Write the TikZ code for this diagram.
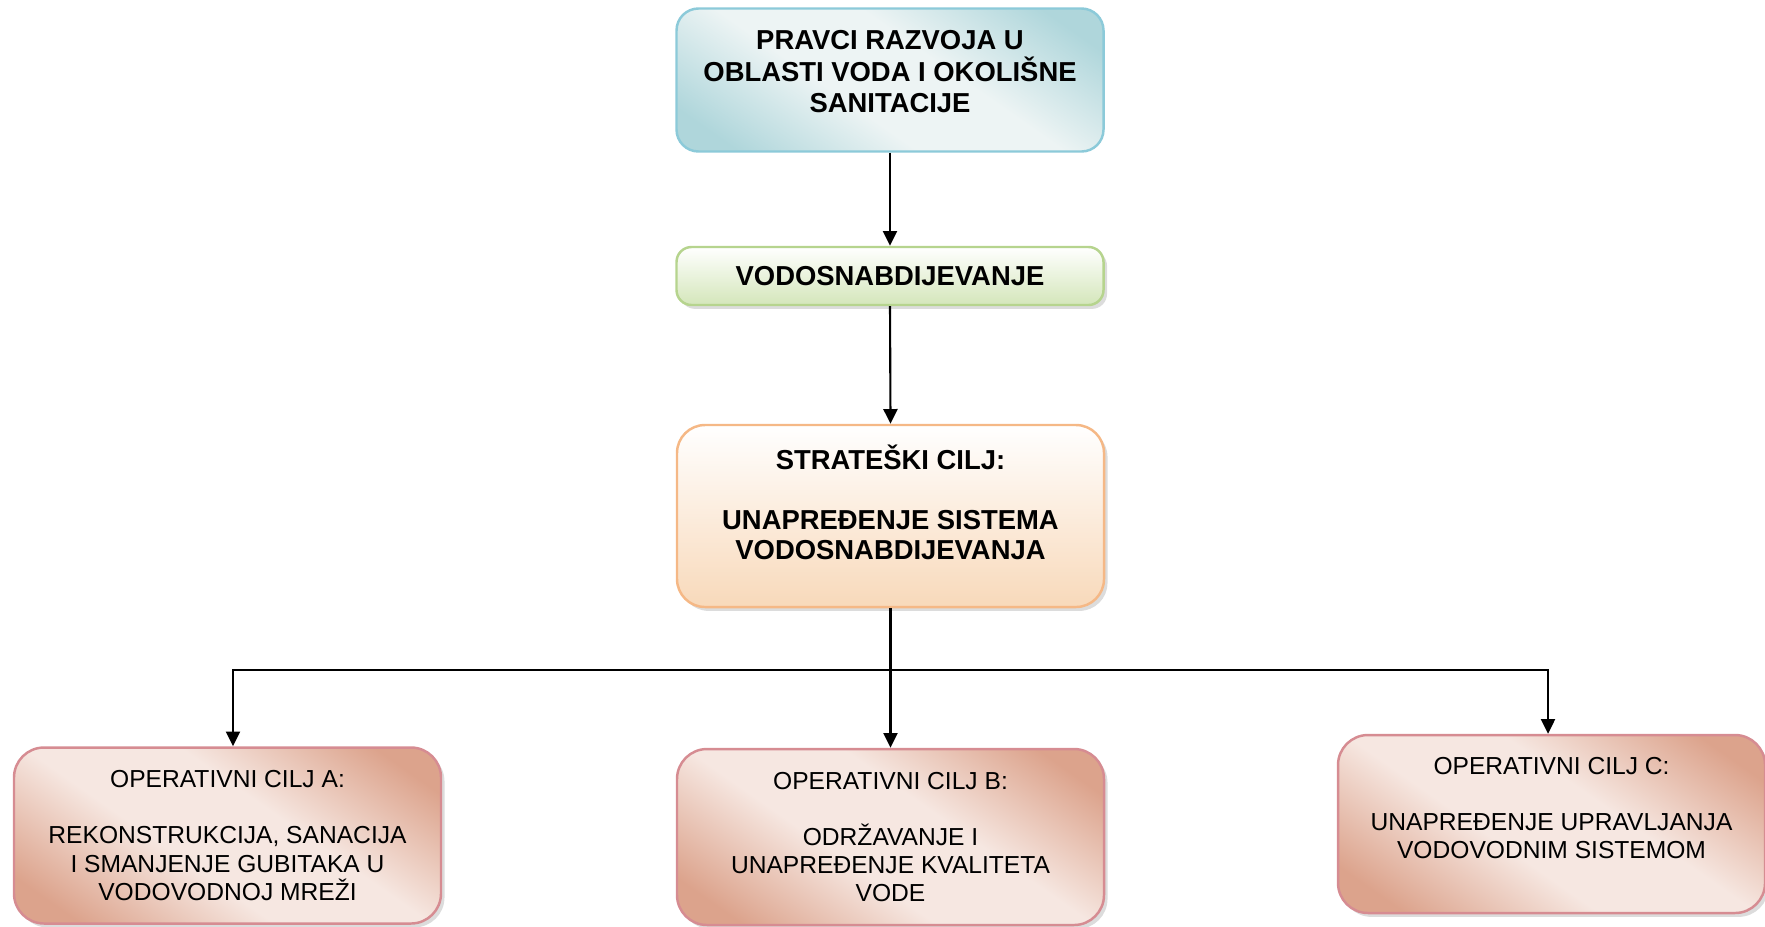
\documentclass[tikz,border=0pt]{standalone}
\usepackage{fontspec}
\setmainfont{Liberation Sans}
\usetikzlibrary{arrows.meta,shadows,positioning}
\definecolor{tealdark}{HTML}{AFD6DB}
\definecolor{teallight}{HTML}{EDF4F4}
\definecolor{tealline}{HTML}{8CCAD9}
\definecolor{greenfill}{HTML}{D4E6BA}
\definecolor{greenline}{HTML}{B6D48E}
\definecolor{peachfill}{HTML}{F8D9BA}
\definecolor{peachline}{HTML}{F5B886}
\definecolor{rosedark}{HTML}{DCA38C}
\definecolor{roselight}{HTML}{F6E7E1}
\definecolor{roseline}{HTML}{D68C92}
\pgfdeclarehorizontalshading{tealshade}{100bp}{color(0bp)=(tealdark); color(22bp)=(tealdark);
    color(42bp)=(teallight); color(58bp)=(teallight); color(78bp)=(tealdark); color(100bp)=(tealdark)}
\pgfdeclarehorizontalshading{roseshade}{100bp}{color(0bp)=(rosedark); color(22bp)=(rosedark);
    color(42bp)=(roselight); color(58bp)=(roselight); color(78bp)=(rosedark); color(100bp)=(rosedark)}
\tikzset{
    box/.style={draw, line width=0.7pt, align=center, inner sep=0pt,
        minimum width=4.27cm},
    boxshadow/.style={drop shadow={shadow xshift=1pt, shadow yshift=-1.1pt, fill=gray!55}},
    headbox/.style={box, draw=tealline, rounded corners=0.22cm, minimum height=1.43cm,
        shading=tealshade, shading angle=55,
        font=\bfseries\fontsize{7.8}{9}\selectfont},
    areabox/.style={box, boxshadow, draw=greenline, rounded corners=0.15cm, minimum height=0.58cm,
        top color=white, bottom color=greenfill,
        font=\bfseries\fontsize{7.8}{9}\selectfont},
    goalbox/.style={box, boxshadow, draw=peachline, rounded corners=0.28cm, minimum height=1.82cm,
        top color=white, bottom color=peachfill,
        font=\bfseries\fontsize{7.8}{8.5}\selectfont},
    opbox/.style={box, boxshadow, draw=roseline, rounded corners=0.3cm, minimum height=1.76cm,
        shading=roseshade, shading angle=55,
        font=\fontsize{7}{8}\selectfont},
    link/.style={line width=0.6pt, -{Triangle[length=4.2pt,width=4pt]}},
}
\begin{document}
\begin{tikzpicture}
\useasboundingbox (0,0) rectangle (17.65,-9.26);
\node[headbox, text depth=4.8pt] (top) at (8.90,-0.80) {PRAVCI RAZVOJA U\\OBLASTI VODA I OKOLIŠNE\\SANITACIJE};
\node[areabox] (area) at (8.90,-2.76) {VODOSNABDIJEVANJE};
\node[goalbox, text depth=8pt] (goal) at (8.905,-5.16) {STRATEŠKI CILJ:\\[8.5pt]UNAPREĐENJE SISTEMA\\VODOSNABDIJEVANJA};
% operativni ciljevi
\node[opbox] (opA) at (2.275,-8.355) {OPERATIVNI CILJ A:\\[8pt]REKONSTRUKCIJA, SANACIJA\\I SMANJENJE GUBITAKA U\\VODOVODNOJ MREŽI};
\node[opbox] (opB) at (8.905,-8.37) {OPERATIVNI CILJ B:\\[8pt]ODRŽAVANJE I\\UNAPREĐENJE KVALITETA\\VODE};
\node[opbox, minimum height=1.78cm, text depth=9pt] (opC) at (15.515,-8.24) {OPERATIVNI CILJ C:\\[8pt]UNAPREĐENJE UPRAVLJANJA\\VODOVODNIM SISTEMOM};
\coordinate (split) at (8.905,-6.70);
\draw[link] (top.south) -- (area.north);
\draw[link] (area.south) -- (goal.north);
\draw[link] (goal.south) -- (opB.north);
\draw[link] (split) -| ([xshift=0.055cm]opA.north);
\draw[link] (split) -| ([xshift=-0.035cm]opC.north);
\end{tikzpicture}
\end{document}
